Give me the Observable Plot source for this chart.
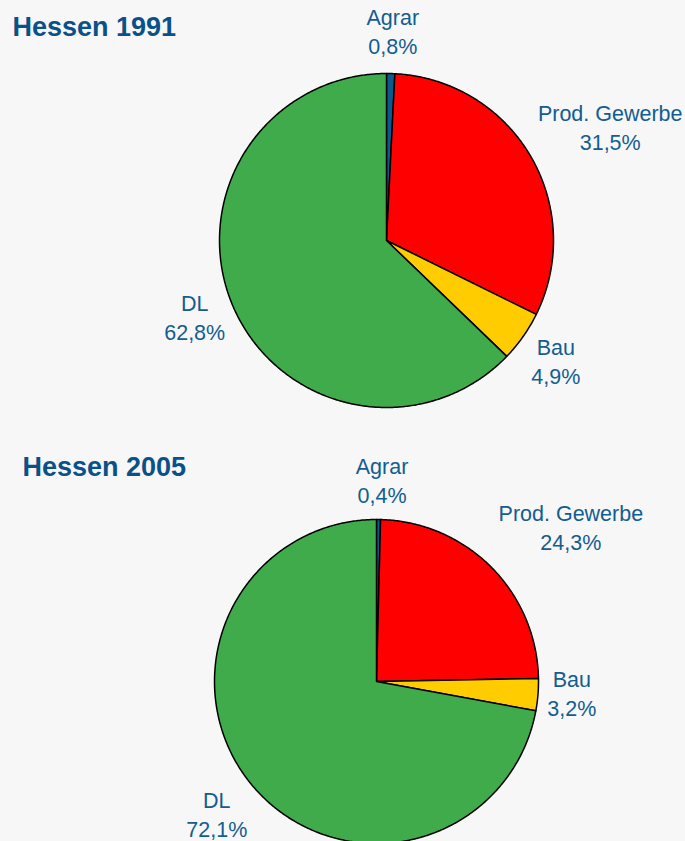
<!DOCTYPE html>
<html><head><meta charset="utf-8">
<script src="https://cdn.jsdelivr.net/npm/d3@7"></script>
<script src="https://cdn.jsdelivr.net/npm/@observablehq/plot@0.6"></script>
<style>html,body{margin:0;padding:0;background:#f7f7f7;overflow:hidden;}</style>
</head><body><div id="chart"></div>
<script>
// ---- data ----
const categories = ["Agrar", "Prod. Gewerbe", "Bau", "DL"];
const titles = ["Hessen 1991", "Hessen 2005"];
const shares1991 = [0.8, 31.5, 4.9, 62.8];
const shares2005 = [0.4, 24.3, 3.2, 72.1];
const sliceColors = ["#0b5a8c", "#ff0000", "#ffcc00", "#3fab4a"];

// ---- layout ----
const W = 685, H = 841;
const labelFont = 21.5, lineGap = 29;
const textColor = "#135d91";
const pies = [
  {title: titles[0], values: shares1991, cx: 386, cy: 240, r: 167, tx: 12, ty: 27,
   nudge: [[1, -2], [5, -9], [0, 0], [4, -6]]},
  {title: titles[1], values: shares2005, cx: 376, cy: 681, r: 162, tx: 22, ty: 467,
   nudge: [[3, 1], [18, -12], [-6, -6], [0, 2]]}
];

const fmt = v => d3.format(".1f")(v).replace(".", ",") + "%";
const ctx = document.createElement("canvas").getContext("2d");
ctx.font = `21px "Liberation Sans", Arial, sans-serif`;

const slicePts = [];
const labels = [];
const titleRows = [];
pies.forEach((p, pi) => {
  titleRows.push({x: p.tx, y: p.ty, text: p.title});
  const total = d3.sum(p.values);
  let cum = 0;
  p.values.forEach((v, i) => {
    const a0 = cum / total * 2 * Math.PI;
    const a1 = (cum + v) / total * 2 * Math.PI;
    cum += v;
    const key = `${pi}-${i}`;
    slicePts.push({key, color: sliceColors[i], x: p.cx, y: p.cy});
    const n = Math.max(2, Math.ceil((a1 - a0) / (Math.PI / 360)));
    for (let k = 0; k <= n; k++) {
      const a = a0 + (a1 - a0) * k / n;
      slicePts.push({key, color: sliceColors[i], x: p.cx + p.r * Math.sin(a), y: p.cy - p.r * Math.cos(a)});
    }
    slicePts.push({key, color: sliceColors[i], x: p.cx, y: p.cy});
    // label: outside end, box touching a point just beyond the rim
    const am = (a0 + a1) / 2;
    const s = Math.sin(am), c = Math.cos(am);
    const line2 = fmt(v);
    const w = Math.max(ctx.measureText(categories[i]).width, ctx.measureText(line2).width);
    const h = lineGap * 2;
    const gap = 16;
    const px = p.cx + (p.r + gap) * s, py = p.cy - (p.r + gap) * c;
    const [nx, ny] = p.nudge[i];
    labels.push({x: px + s * w / 2 + nx, y: py - c * h / 2.3 + ny, text: categories[i] + "\n" + line2});
  });
});

const chart = Plot.plot({
  width: W, height: H,
  margin: 0,
  style: {background: "#f7f7f7", overflow: "hidden"},
  x: {domain: [0, W], range: [0, W], axis: null},
  y: {domain: [0, H], range: [0, H], axis: null},
  color: {type: "identity"},
  marks: [
    Plot.line(slicePts, {x: "x", y: "y", z: "key", fill: "color", stroke: "#000", strokeWidth: 1.5, strokeLinejoin: "round", curve: "linear"}),
    Plot.text(labels, {x: "x", y: "y", text: "text", fill: textColor, fontSize: labelFont, lineHeight: lineGap / labelFont, lineAnchor: "middle", textAnchor: "middle", fontFamily: "Liberation Sans, Arial, sans-serif"}),
    Plot.text(titleRows, {x: "x", y: "y", text: "text", fill: "#0b5189", fontSize: 27, fontWeight: "bold", textAnchor: "start", lineAnchor: "middle", fontFamily: "Liberation Sans, Arial, sans-serif"})
  ]
});
document.getElementById("chart").append(chart);
</script>
</body></html>
